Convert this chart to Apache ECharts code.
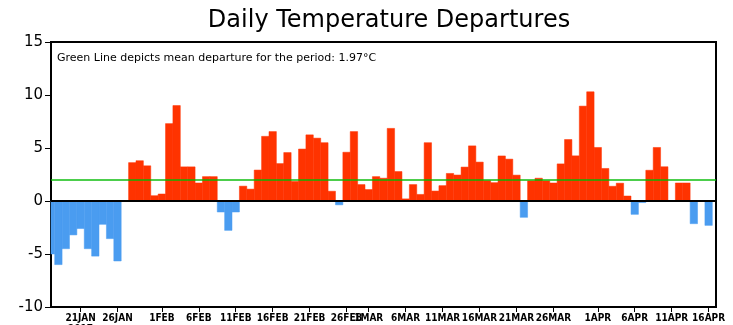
<!DOCTYPE html>
<html>
<head>
<meta charset="utf-8">
<script src="https://cdn.jsdelivr.net/npm/echarts@6/dist/echarts.min.js"></script>
<style>
html,body{margin:0;padding:0;background:#fff;}
#chart{width:733px;height:325px;}
</style>
</head>
<body>
<div id="chart"></div>
<script>
// Days: 17 JAN 2017 .. 17 APR 2017 (91 days)
const startDate = '2017-01-17';
const dayCount = 91;
const months = ['JAN','FEB','MAR','APR','MAY','JUN','JUL','AUG','SEP','OCT','NOV','DEC'];

// Daily temperature departures (°C), one per day
const departures = [
  -5.0, -6.0, -4.5, -3.2, -2.6, -4.5, -5.2, -2.2, -3.55, -5.66,
  0, 3.62, 3.8, 3.32, 0.5, 0.66, 7.3, 9.0, 3.22, 3.22,
  1.7, 2.3, 2.3, -1.04, -2.77, -1.04, 1.4, 1.12, 2.92, 6.1,
  6.55, 3.53, 4.57, 1.85, 4.9, 6.24, 5.93, 5.5, 0.92, -0.36,
  4.6, 6.55, 1.55, 1.08, 2.3, 2.15, 6.85, 2.78, 0.2, 1.55,
  0.62, 5.5, 0.94, 1.45, 2.6, 2.45, 3.2, 5.2, 3.67, 1.92,
  1.73, 4.25, 3.95, 2.44, -1.54, 1.9, 2.15, 1.9, 1.7, 3.5,
  5.8, 4.26, 8.95, 10.3, 5.05, 3.07, 1.39, 1.68, 0.47, -1.26,
  -0.15, 2.9, 5.05, 3.23, 0, 1.7, 1.7, -2.14, 0, -2.3,
  0
];

const meanDeparture = 1.97;

const tickLabels = ['21JAN','26JAN','1FEB','6FEB','11FEB','16FEB','21FEB','26FEB','1MAR',
  '6MAR','11MAR','16MAR','21MAR','26MAR','1APR','6APR','11APR','16APR'];
const yTicks = [-10, -5, 0, 5, 10, 15];

const titleText = 'Daily Temperature Departures';
const noteText = 'Green Line depicts mean departure for the period: 1.97°C';

const warmColor = '#ff3300';
const coldColor = '#4a9cf0';

// build category labels from the date range
const categories = [];
{
  const d = new Date(startDate + 'T12:00:00Z');
  for (let i = 0; i < dayCount; i++) {
    categories.push(d.getUTCDate() + months[d.getUTCMonth()]);
    d.setUTCDate(d.getUTCDate() + 1);
  }
}

const chart = echarts.init(document.getElementById('chart'), null, {renderer: 'canvas'});
const isTick = (idx) => tickLabels.indexOf(categories[idx]) >= 0;

function renderBar(params, api) {
  const x = api.value(0);
  const v = api.value(1);
  const p0 = api.coord([x, 0]);
  const p1 = api.coord([x, v]);
  const w = api.size([1, 0])[0];
  const cs = params.coordSys;
  const rect = echarts.graphic.clipRectByRect(
    {x: p0[0] - w / 2, y: Math.min(p0[1], p1[1]), width: w, height: Math.abs(p1[1] - p0[1])},
    {x: cs.x, y: cs.y, width: cs.width, height: cs.height}
  );
  if (!rect || rect.height <= 0) return null;
  const c = v >= 0 ? warmColor : coldColor;
  return {type: 'rect', shape: rect, style: {fill: c, stroke: c, lineWidth: 0.5}};
}

chart.setOption({
  animation: false,
  backgroundColor: '#ffffff',
  title: {
    text: titleText,
    left: 384, top: 4, textAlign: 'center',
    textStyle: {fontFamily: 'DejaVu Sans', fontSize: 24, fontWeight: 'normal', color: '#000'}
  },
  graphic: [{
    type: 'text', left: 57, top: 53,
    style: {text: noteText, font: '11px "DejaVu Sans"', fill: '#000'}
  }],
  grid: {left: 51, right: 17, top: 42, bottom: 18, show: true, borderColor: '#000', borderWidth: 2,
    backgroundColor: 'transparent', outerBoundsMode: 'none', containLabel: false},
  xAxis: {
    type: 'category',
    data: categories,
    boundaryGap: false,
    axisLine: {show: true, onZero: false, lineStyle: {color: '#000', width: 2}},
    axisTick: {show: true, inside: false, length: 5, interval: (i) => isTick(i), lineStyle: {color: '#000', width: 1}},
    axisLabel: {
      interval: (i) => isTick(i),
      formatter: (v) => v === '21JAN' ? '21JAN\n2017' : v,
      fontFamily: 'DejaVu Sans Condensed', fontSize: 10, fontWeight: 'bold', color: '#000', margin: 6, lineHeight: 11
    },
    splitLine: {show: false}
  },
  yAxis: {
    type: 'value', min: -10, max: 15, interval: 5,
    axisLine: {show: true, lineStyle: {color: '#000', width: 2}},
    axisTick: {show: true, length: 6, lineStyle: {color: '#000', width: 1}},
    axisLabel: {fontFamily: 'DejaVu Sans', fontSize: 15, color: '#000', margin: 8,
      formatter: (v) => yTicks.indexOf(v) >= 0 ? String(v) : ''},
    splitLine: {show: false}
  },
  series: [{
    type: 'custom',
    renderItem: renderBar,
    data: departures.map((v, i) => [i, v]),
    encode: {x: 0, y: 1},
    markLine: {
      silent: true, symbol: 'none', label: {show: false}, z: 5,
      data: [
        {yAxis: 0, lineStyle: {color: '#000', width: 2, type: 'solid'}},
        {yAxis: meanDeparture, lineStyle: {color: 'rgba(0,185,0,0.7)', width: 2, type: 'solid'}}
      ]
    }
  }]
});
</script>
</body>
</html>
